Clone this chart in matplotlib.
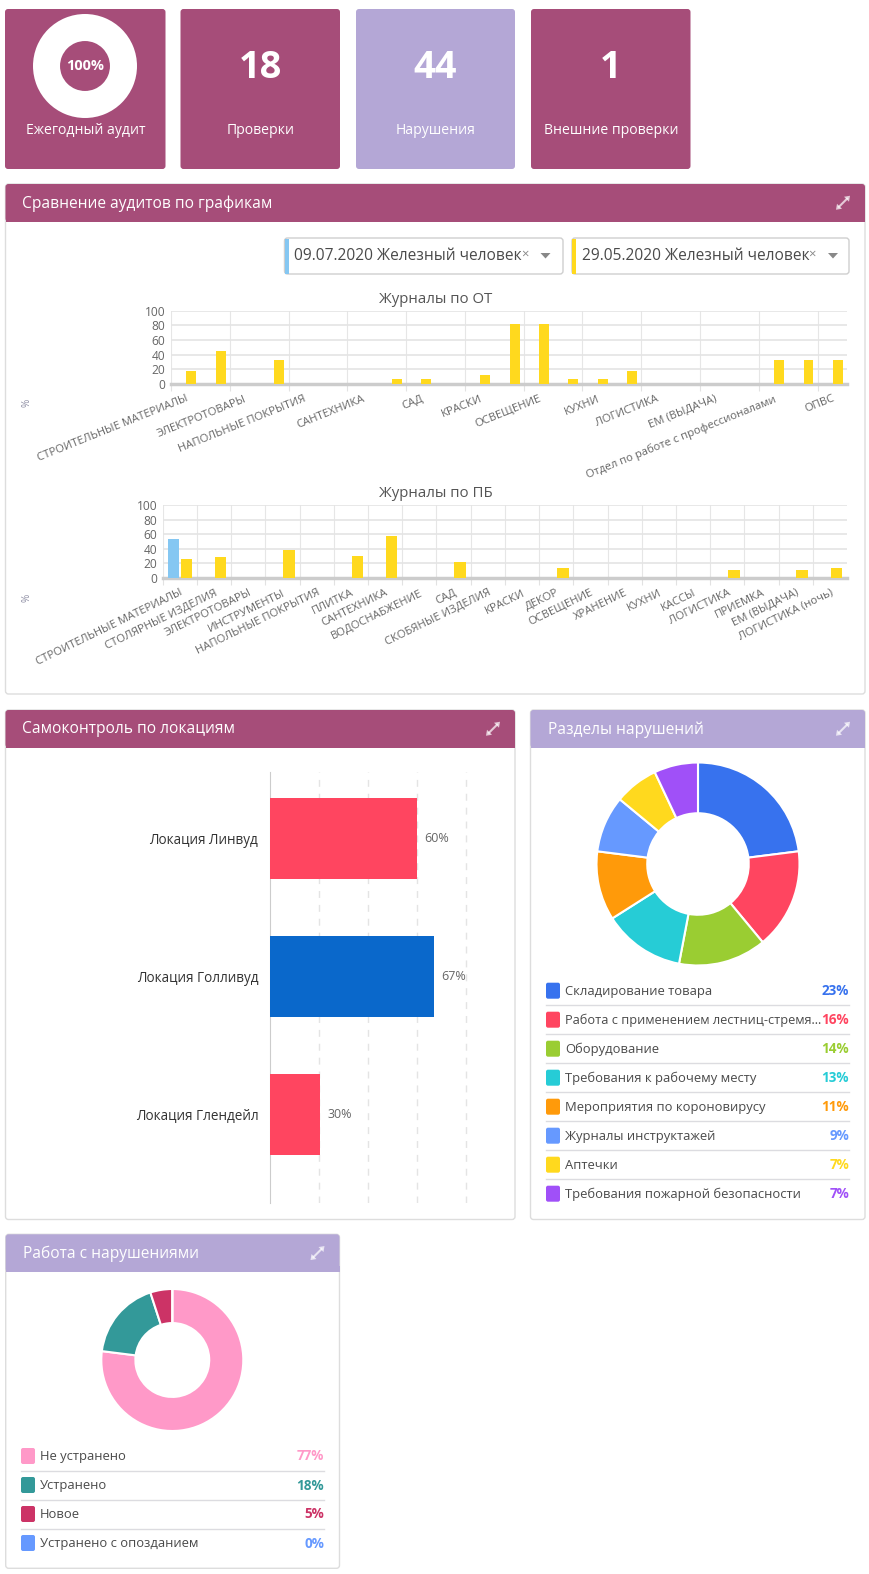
import numpy as np
import matplotlib
matplotlib.use("Agg")
import matplotlib.pyplot as plt
from matplotlib.patches import FancyBboxPatch, Rectangle, Polygon

plt.rcParams['font.family'] = ['Open Sans', 'DejaVu Sans']

W, H = 869, 1574
MAROON = '#a64d79'
LILAC = '#b4a7d6'
BLUE = '#85c7f2'
YELLOW = '#ffd91e'
TXT = '#4a4a4a'

# ---- data ----
card_labels = ['Ежегодный аудит', 'Проверки', 'Нарушения', 'Внешние проверки']
card_numbers = ['100%', '18', '44', '1']
audit_values = [100]

select_labels = ['09.07.2020 Железный человек', '29.05.2020 Железный человек']

ot_labels = ['СТРОИТЕЛЬНЫЕ МАТЕРИАЛЫ', 'ЭЛЕКТРОТОВАРЫ', 'НАПОЛЬНЫЕ ПОКРЫТИЯ', 'САНТЕХНИКА',
             'САД', 'КРАСКИ', 'ОСВЕЩЕНИЕ', 'КУХНИ', 'ЛОГИСТИКА', 'ЕМ (ВЫДАЧА)',
             'Отдел по работе с профессионалами', 'ОПВС']
ot_yellow = [18, 45, 0, 32, 0, 0, 0, 7, 7, 0, 12, 82, 82, 7, 7, 18, 0, 0, 0, 0, 32, 32, 32]
ot_blue = [0] * 23

pb_labels = ['СТРОИТЕЛЬНЫЕ МАТЕРИАЛЫ', 'СТОЛЯРНЫЕ ИЗДЕЛИЯ', 'ЭЛЕКТРОТОВАРЫ', 'ИНСТРУМЕНТЫ',
             'НАПОЛЬНЫЕ ПОКРЫТИЯ', 'ПЛИТКА', 'САНТЕХНИКА', 'ВОДОСНАБЖЕНИЕ', 'САД',
             'СКОБЯНЫЕ ИЗДЕЛИЯ', 'КРАСКИ', 'ДЕКОР', 'ОСВЕЩЕНИЕ', 'ХРАНЕНИЕ', 'КУХНИ', 'КАССЫ',
             'ЛОГИСТИКА', 'ПРИЕМКА', 'ЕМ (ВЫДАЧА)', 'ЛОГИСТИКА (ночь)']
pb_yellow = [26, 29, 0, 38, 0, 30, 58, 0, 22, 0, 0, 13, 0, 0, 0, 0, 10, 0, 10, 13]
pb_blue = [53] + [0] * 19

loc_labels = ['Локация Линвуд', 'Локация Голливуд', 'Локация Глендейл']
loc_values = [60, 67, 20.5]
loc_texts = ['60%', '67%', '30%']
loc_colors = ['#ff4560', '#0a68cb', '#ff4560']

sec_labels = ['Складирование товара', 'Работа с применением лестниц-стремя...', 'Оборудование',
              'Требования к рабочему месту', 'Мероприятия по короновирусу',
              'Журналы инструктажей', 'Аптечки', 'Требования пожарной безопасности']
sec_values = [23, 16, 14, 13, 11, 9, 7, 7]
sec_colors = ['#3772ee', '#ff4560', '#9acd32', '#26ccd6', '#ff9a0a', '#6699ff', '#ffd91e', '#a050f8']

work_labels = ['Не устранено', 'Устранено', 'Новое', 'Устранено с опозданием']
work_values = [77, 18, 5, 0]
work_colors = ['#ff99c8', '#339999', '#cc3366', '#6699ff']

# ---- canvas in pixel coordinates ----
fig = plt.figure(figsize=(W / 100, H / 100), dpi=100)
bg = fig.add_axes([0, 0, 1, 1])
bg.set_xlim(0, W)
bg.set_ylim(H, 0)
bg.axis('off')


def px(size):
    return size * 0.72


def box_axes(x0, y0, x1, y1):
    return fig.add_axes([x0 / W, 1 - y1 / H, (x1 - x0) / W, (y1 - y0) / H], facecolor='none')


def round_box(x0, y0, x1, y1, color, edge='none', r=3, z=1):
    bg.add_patch(FancyBboxPatch((x0 + r, y0 + r), x1 - x0 - 2 * r, y1 - y0 - 2 * r,
                                boxstyle='round,pad=%d,rounding_size=%d' % (r, r),
                                fc=color, ec=edge, lw=1, zorder=z))


def expand_icon(x, y):
    col = '#ffffff'
    bg.plot([x - 4, x + 4], [y + 4, y - 4], color=col, lw=1.5, alpha=0.7, zorder=5)
    bg.add_patch(Polygon([(x + 7, y - 7), (x + 1, y - 6), (x + 6, y - 1)], fc=col, alpha=0.7, zorder=5))
    bg.add_patch(Polygon([(x - 7, y + 7), (x - 1, y + 6), (x - 6, y + 1)], fc=col, alpha=0.7, zorder=5))


def panel(x0, y0, x1, y1, title, color, head=37.5):
    round_box(x0, y0, x1, y1, 'white', edge='#dddddd')
    round_box(x0, y0, x1, y0 + head, color, z=2)
    bg.add_patch(Rectangle((x0, y0 + head - 6), x1 - x0, 6, fc=color, ec='none', zorder=2))
    bg.text(x0 + 17, y0 + head / 2 + 0.5, title, color='white', fontsize=px(15.5), va='center', zorder=5)
    expand_icon(x1 - 22, y0 + head / 2)


def donut(cx, cy, r, values, colors, inner, edge=1.5):
    ax = box_axes(cx - r, cy - r, cx + r, cy + r)
    ax.pie(values, colors=colors, startangle=90, counterclock=False, radius=1,
           wedgeprops=dict(width=1 - inner, edgecolor='white', linewidth=edge))
    ax.set_xlim(-1, 1)
    ax.set_ylim(-1, 1)
    return ax


def legend(x0, x1, y0, labels, values, colors):
    for i, (lab, val, col) in enumerate(zip(labels, values, colors)):
        y = y0 + i * 29
        bg.add_patch(FancyBboxPatch((x0 + 1, y - 7), 12, 14, boxstyle='round,pad=1,rounding_size=2',
                                    fc=col, ec='none', zorder=3))
        # the long truncated label has to stop before the percent column
        size = 12.7 if len(lab) > 36 else 13
        bg.text(x0 + 19, y + 0.5, lab, color=TXT, fontsize=px(size), va='center', zorder=3)
        bg.text(x1, y + 0.5, '%d%%' % val, color=col, fontsize=px(13.5), fontweight='bold',
                va='center', ha='right', zorder=3)
        if i < len(labels) - 1:
            bg.plot([x0, x1], [y + 14.5, y + 14.5], color='#dcdce0', lw=1, zorder=2)


def journal_chart(x0, y0, x1, y1, labels, ticks, blue, yellow, slots, angle):
    ax = box_axes(x0, y0, x1, y1)
    pos = np.arange(slots)
    ax.bar(pos - 0.19, blue, 0.34, color=BLUE, zorder=3)
    ax.bar(pos + 0.19, yellow, 0.34, color=YELLOW, zorder=3)
    ax.set_xlim(-0.5, slots - 0.5)
    ax.set_ylim(0, 100)
    ax.set_yticks(range(0, 101, 20))
    ax.tick_params(axis='y', length=0, labelsize=px(12), labelcolor='#666666', pad=4)
    ax.set_xticks(ticks)
    ax.set_xticklabels(labels, rotation=angle, ha='right', rotation_mode='anchor',
                       fontsize=px(11.2), color='#666666')
    ax.tick_params(axis='x', which='major', length=0, pad=7)
    # vertical gridlines sit on category edges and hang a little below the base
    ax.set_xticks(np.asarray(ticks) - 0.5, minor=True)
    ax.tick_params(axis='x', which='minor', length=5, width=0.8, color='#e2e2e2')
    ax.set_axisbelow(True)
    ax.grid(axis='y', color='#e4e4e4', lw=1.2)
    ax.grid(axis='x', which='minor', color='#e6e6e6', lw=0.8)
    for s in ax.spines.values():
        s.set_visible(False)
    ax.axhline(0, color='#cccccc', lw=2.5, zorder=2, clip_on=False)
    return ax


# ---- top cards ----
card_x = [(5, 165.5), (180.5, 340), (356, 515), (531, 690.5)]
card_col = [MAROON, MAROON, LILAC, MAROON]
for (x0, x1), col, lab, num in zip(card_x, card_col, card_labels, card_numbers):
    round_box(x0, 9, x1, 169, col)
    mid = (x0 + x1) / 2
    bg.text(mid, 130, lab, color='white', fontsize=px(14), ha='center', va='center', zorder=3)
    if num != '100%':
        bg.text(mid, 68, num, color='white', fontsize=px(38), fontweight='bold',
                ha='center', va='center', zorder=3)

donut(85, 66, 52, audit_values, ['white'], 0.48, edge=0)
bg.text(85, 66, card_numbers[0], color='white', fontsize=px(14.5), fontweight='bold',
        ha='center', va='center', zorder=3)

# ---- audit comparison panel ----
panel(5.5, 184, 865, 694, 'Сравнение аудитов по графикам', MAROON)

select_x = [(284.5, 563), (572, 849)]
for (x0, x1), col, lab in zip(select_x, [BLUE, YELLOW], select_labels):
    round_box(x0, 238, x1, 274, 'white', edge='#cfcfcf', z=2)
    bg.add_patch(Rectangle((x0, 238.5), 4, 35, fc=col, ec='none', zorder=3))
    bg.text(x0 + 10, 255.5, lab, color=TXT, fontsize=px(15.5), va='center', zorder=3)
    bg.text(x0 + 240, 254, '×', color='#888888', fontsize=px(13), ha='center', va='center', zorder=3)
    bg.add_patch(Polygon([(x0 + 256, 253), (x0 + 266, 253), (x0 + 261, 258.5)], fc='#888888', zorder=3))

journal_chart(171, 310.7, 847, 383.7, ot_labels, np.arange(0, 23, 2), ot_blue, ot_yellow, 23, 22)
journal_chart(162.8, 505, 847, 577.7, pb_labels, np.arange(20), pb_blue, pb_yellow, 20, 26)
bg.text(436, 299.5, 'Журналы по ОТ', color='#555555', fontsize=px(15), ha='center', va='center', zorder=3)
bg.text(436, 493.5, 'Журналы по ПБ', color='#555555', fontsize=px(15), ha='center', va='center', zorder=3)
bg.text(27, 403, '%', color='#8a8aa0', fontsize=px(10), rotation=90, ha='center', va='center', zorder=3)
bg.text(27, 598, '%', color='#8a8aa0', fontsize=px(10), rotation=90, ha='center', va='center', zorder=3)

# ---- self-control panel ----
panel(5.5, 710, 515, 1219.5, 'Самоконтроль по локациям', MAROON)

ax = box_axes(270, 772, 515, 1203)
ypos = np.arange(len(loc_values))
ax.barh(ypos, loc_values, 0.585, color=loc_colors, zorder=3)
ax.set_xlim(0, 100)
ax.set_ylim(2.64, -0.48)
for s in ax.spines.values():
    s.set_visible(False)
ax.spines['left'].set_visible(True)
ax.spines['left'].set_color('#cccccc')
ax.set_xticks(range(20, 100, 20))
ax.set_xticklabels([])
ax.tick_params(length=0)
ax.grid(axis='x', color='#e4e4e4', lw=1, ls=(0, (5, 5)))
ax.set_axisbelow(True)
ax.set_yticks(ypos)
ax.set_yticklabels(loc_labels, fontsize=px(13.5), color='#333333', fontweight='medium')
ax.tick_params(axis='y', pad=8.5)
for y, v, t in zip(ypos, loc_values, loc_texts):
    ax.annotate(t, (v, y), xytext=(5, 0), textcoords='offset points', va='center',
                fontsize=px(12.5), color='#666666')

# ---- violation sections panel ----
panel(530.5, 710, 865, 1219.5, 'Разделы нарушений', LILAC)
donut(698, 864, 101.5, sec_values, sec_colors, 0.5)
legend(546, 849, 990.7, sec_labels, sec_values, sec_colors)

# ---- work with violations panel ----
panel(5.7, 1234.3, 339.5, 1568.3, 'Работа с нарушениями', LILAC)
donut(172.3, 1360, 71, work_values, work_colors, 0.52)
legend(21, 324, 1456, work_labels, work_values, work_colors)

fig.savefig('out.png', dpi=100)
